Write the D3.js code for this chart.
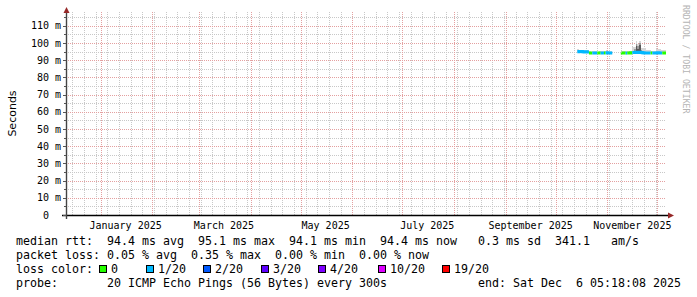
<!DOCTYPE html>
<html>
<head>
<meta charset="utf-8">
<script src="https://cdn.jsdelivr.net/npm/d3@7"></script>
<style>
  html, body { margin: 0; padding: 0; background: #fff; }
  svg { display: block; }
  text { font-family: "DejaVu Sans Mono", monospace; white-space: pre; }
</style>
</head>
<body>
<svg id="chart" width="697" height="297"></svg>
<script>
/* smokeping style rtt graph, last 360 days */

const rangeStart = "2024-12-11 05:18";
const rangeEnd   = "2025-12-06 05:18";
const yMax = 118;

/* segment 1: Oct 14 .. Nov 3 (daily buckets), ends Nov 4 */
const days1 = ["2025-10-14","2025-10-15","2025-10-16","2025-10-17","2025-10-18","2025-10-19","2025-10-20",
  "2025-10-21","2025-10-22","2025-10-23","2025-10-24","2025-10-25","2025-10-26","2025-10-27",
  "2025-10-28","2025-10-29","2025-10-30","2025-10-31","2025-11-01","2025-11-02","2025-11-03"];
const end1 = "2025-11-04";
const median1 = [94.9, 95.0, 95.1, 94.9, 94.8, 94.9, 94.8,
  94.2, 94.1, 94.2, 94.2, 94.1, 94.2, 94.2,
  94.1, 94.2, 94.2, 94.3, 94.2, 94.1, 94.2];
const loss1 = [1, 1, 1, 1, 1, 1, 1,
  0, 0, 1, 1, 1, 0, 0,
  1, 1, 0, 1, 1, 1, 1];
const smoke1 = [96.3, 96.1, 96.2, 96.0, 96.2, 96.1, 96.0,
  95.1, 95.0, 95.6, 95.5, 95.1, 95.0, 95.1,
  95.6, 95.5, 95.6, 95.7, 95.5, 95.6, 95.2];

/* segment 2: Nov 9 noon .. Dec 5, ends at graph end */
const days2 = ["2025-11-09 12:00","2025-11-10","2025-11-11","2025-11-12","2025-11-13","2025-11-14",
  "2025-11-15","2025-11-16","2025-11-17","2025-11-18","2025-11-19","2025-11-20","2025-11-21",
  "2025-11-22","2025-11-23","2025-11-24","2025-11-25","2025-11-26","2025-11-27","2025-11-28",
  "2025-11-29","2025-11-30","2025-12-01","2025-12-02","2025-12-03","2025-12-04","2025-12-05"];
const end2 = "2025-12-06 05:18";
const median2 = [94.2, 94.1, 94.2, 94.1, 94.2, 94.2,
  94.3, 94.4, 94.5, 94.6, 94.5, 94.6, 94.4,
  94.3, 94.2, 94.2, 94.1, 94.2, 94.2, 94.1,
  94.2, 94.2, 94.3, 94.2, 94.2, 94.1, 94.2];
const loss2 = [0, 0, 0, 1, 0, 0,
  0, 1, 1, 1, 1, 1, 1,
  1, 1, 1, 1, 1, 0, 1,
  1, 1, 1, 1, 1, 0, 0];
const smoke2 = [95.4, 95.5, 95.2, 95.3, 95.4, 95.2,
  95.5, 97.4, 97.8, 100.9, 99.4, 101.3, 97.3,
  97.0, 96.8, 96.1, 96.0, 95.9, 95.3, 95.2,
  95.6, 96.4, 96.3, 96.4, 96.0, 96.1, 95.8];

/* the high-spread days: inner smoke bands */
const spikeDays  = ["2025-11-17","2025-11-18","2025-11-19","2025-11-20","2025-11-21"];
const spikeMid   = [96.4, 99.6, 98.2, 100.1, 96.0];
const spikeInner = [95.3, 98.4, 96.6, 98.9, 95.2];

const lossLabels = ["0", "1/20", "2/20", "3/20", "4/20", "10/20", "19/20"];
const lossColors = ["#26ff00", "#00b8ff", "#0059ff", "#5e00ff", "#7e00ff", "#dd00ff", "#ff0000"];

const statRows = [
  "median rtt:  94.4 ms avg  95.1 ms max  94.1 ms min  94.4 ms now   0.3 ms sd  341.1   am/s",
  "packet loss: 0.05 % avg  0.35 % max  0.00 % min  0.00 % now"
];
const probeText = "probe:       20 ICMP Echo Pings (56 Bytes) every 300s";
const endText = "end: Sat Dec  6 05:18:08 2025";

/* layout */
const X0 = 66, X1 = 666, Y0 = 215, Y1 = 12;
const legendBoxX = [99, 146, 203, 261, 318, 378, 442];
const rowY = [245, 258.5, 272.5, 286.5];

const parseDate = s => d3.timeParse(s.length > 10 ? "%Y-%m-%d %H:%M" : "%Y-%m-%d")(s);

const x = d3.scaleTime().domain([parseDate(rangeStart), parseDate(rangeEnd)]).range([X0, X1]);
const y = d3.scaleLinear().domain([0, yMax]).range([Y0, Y1]);
const lossColor = d3.scaleThreshold().domain([1, 2, 3, 4, 10, 19]).range(lossColors);

const svg = d3.select("#chart");
svg.append("rect").attr("width", 697).attr("height", 297).attr("fill", "#fff");

const px = v => Math.round(v) + 0.5;

/* grid */
const grid = svg.append("g").attr("stroke-dasharray", "1,1").attr("stroke-width", 1);
const [t0, t1] = x.domain();
const weeks = d3.timeSunday.range(t0, t1);
const months = d3.timeMonth.range(t0, t1);

grid.selectAll(".vmin").data(weeks).join("line")
  .attr("x1", d => px(x(d))).attr("x2", d => px(x(d)))
  .attr("y1", Y0).attr("y2", Y1)
  .attr("stroke", "#c8c8c8");
grid.selectAll(".hmin").data(d3.range(5, 116, 10)).join("line")
  .attr("x1", X0).attr("x2", X1)
  .attr("y1", d => px(y(d))).attr("y2", d => px(y(d)))
  .attr("stroke", "#c8c8c8");
grid.selectAll(".vmaj").data(months).join("line")
  .attr("x1", d => px(x(d))).attr("x2", d => px(x(d)))
  .attr("y1", Y0).attr("y2", Y1)
  .attr("stroke", "#e4a0a0");
grid.selectAll(".hmaj").data(d3.range(10, 111, 10)).join("line")
  .attr("x1", X0).attr("x2", X1)
  .attr("y1", d => px(y(d))).attr("y2", d => px(y(d)))
  .attr("stroke", "#e4a0a0");

/* data */
const plot = svg.append("g").attr("shape-rendering", "crispEdges");

function bucketsOf(days, endDay, median, loss, smoke) {
  const ts = days.map(parseDate);
  const te = parseDate(endDay);
  return ts.map((t, i) => ({
    t, next: i + 1 < ts.length ? ts[i + 1] : te,
    median: median[i], loss: loss[i], smoke: smoke[i]
  }));
}

const segments = [
  bucketsOf(days1, end1, median1, loss1, smoke1),
  bucketsOf(days2, end2, median2, loss2, smoke2)
];

/* outer smoke */
segments.forEach(seg => {
  plot.append("g").selectAll("rect").data(seg).join("rect")
    .attr("x", d => x(d.t))
    .attr("width", d => x(d.next) - x(d.t))
    .attr("y", d => y(d.smoke))
    .attr("height", d => y(d.median) - y(d.smoke))
    .attr("fill", "#d6d6d6");
});

/* inner smoke on spike days */
const seg2ByDay = new Map(segments[1].map(d => [+d.t, d]));
const spikes = spikeDays.map((s, i) => {
  const b = seg2ByDay.get(+parseDate(s));
  return { t: b.t, next: b.next, median: b.median, mid: spikeMid[i], inner: spikeInner[i] };
});
plot.append("g").selectAll("rect").data(spikes).join("rect")
  .attr("x", d => x(d.t)).attr("width", d => x(d.next) - x(d.t))
  .attr("y", d => y(d.mid)).attr("height", d => y(d.median) - y(d.mid))
  .attr("fill", "#9a9a9a");
plot.append("g").selectAll("rect").data(spikes).join("rect")
  .attr("x", d => x(d.t)).attr("width", d => x(d.next) - x(d.t))
  .attr("y", d => y(d.inner)).attr("height", d => y(d.median) - y(d.inner))
  .attr("fill", "#5a5a5a");

/* median line, coloured by loss, in runs of the same colour */
const line = d3.line().x(d => x(d[0])).y(d => y(d[1])).curve(d3.curveStepAfter);
segments.forEach(seg => {
  let run = [];
  seg.forEach((d, i) => {
    run.push(d);
    const nxt = seg[i + 1];
    if (!nxt || lossColor(nxt.loss) !== lossColor(d.loss)) {
      const pts = run.map(r => [r.t, r.median]);
      pts.push([d.next, d.median]);
      svg.append("path")
        .attr("d", line(pts))
        .attr("fill", "none")
        .attr("stroke", lossColor(d.loss))
        .attr("stroke-width", 3);
      run = [];
    }
  });
});

/* axes */
const axis = svg.append("g");
axis.append("line").attr("x1", X0 - 4).attr("x2", X1 + 2).attr("y1", Y0 + 0.5).attr("y2", Y0 + 0.5)
  .attr("stroke", "#000").attr("stroke-width", 1.5);
axis.append("line").attr("x1", X0 + 0.5).attr("x2", X0 + 0.5).attr("y1", Y0 + 4).attr("y2", Y1 - 1)
  .attr("stroke", "#444").attr("stroke-width", 1.4);
axis.selectAll(".yt").data(d3.range(0, 116, 5)).join("line")
  .attr("x1", d => d % 10 === 0 ? X0 - 3 : X0 - 2).attr("x2", X0)
  .attr("y1", d => px(y(d))).attr("y2", d => px(y(d)))
  .attr("stroke", "#555");
axis.append("path").attr("d", `M${X0 + 0.5},7 L${X0 - 2.5},13 L${X0 + 3.5},13 Z`).attr("fill", "#962828");
axis.append("path").attr("d", `M${X1 + 8},${Y0 + 0.5} L${X1 + 2},${Y0 - 2.5} L${X1 + 2},${Y0 + 3.5} Z`).attr("fill", "#962828");

/* tick labels */
svg.append("g").selectAll("text").data(d3.range(0, 111, 10)).join("text")
  .attr("x", 61).attr("y", d => y(d) + 3.6)
  .attr("text-anchor", "end")
  .attr("font-size", 10).attr("fill", "#000")
  .text(d => d === 0 ? "0  " : d + " m");

const fmtMonth = d3.timeFormat("%B %Y");
svg.append("g").selectAll("text").data(months.filter(m => m.getMonth() % 2 === 0)).join("text")
  .attr("x", d => x(d3.timeDay.offset(d, 15)))
  .attr("y", 229)
  .attr("text-anchor", "middle")
  .attr("font-size", 10).attr("fill", "#000")
  .text(d => fmtMonth(d));

svg.append("text")
  .attr("transform", `translate(15.5,${(Y0 + Y1) / 2}) rotate(-90)`)
  .attr("text-anchor", "middle")
  .style("font-family", "'DejaVu Sans', sans-serif")
  .attr("font-size", 11).attr("fill", "#000")
  .text("Seconds");

svg.append("text")
  .attr("transform", "translate(683,5) rotate(90)")
  .attr("font-size", 8.2).attr("fill", "#b4b4b4")
  .text("RRDTOOL / TOBI OETIKER");

/* legend */
const legend = svg.append("g").attr("font-size", 11.63).attr("fill", "#000");
statRows.forEach((s, i) => legend.append("text").attr("x", 16).attr("y", rowY[i]).text(s));
legend.append("text").attr("x", 16).attr("y", rowY[2]).text("loss color:");
lossLabels.forEach((lab, i) => {
  legend.append("rect")
    .attr("x", legendBoxX[i] + 0.5).attr("y", rowY[2] - 7)
    .attr("width", 7).attr("height", 7)
    .attr("fill", lossColors[i]).attr("stroke", "#000").attr("stroke-width", 1);
  legend.append("text").attr("x", legendBoxX[i] + 12).attr("y", rowY[2]).text(lab);
});
legend.append("text").attr("x", 16).attr("y", rowY[3]).text(probeText);
legend.append("text").attr("x", 681).attr("y", rowY[3]).attr("text-anchor", "end").text(endText);
</script>
</body>
</html>
